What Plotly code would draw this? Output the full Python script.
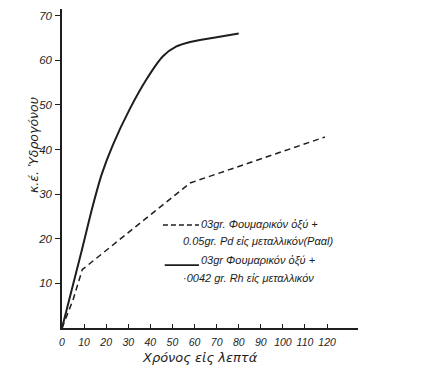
import plotly.graph_objects as go

# Data
rh_time = [0, 9, 14, 18, 23, 30.6, 38.2, 45.7, 51.8, 58, 68, 80]
rh_h2 = [0, 17.5, 27.5, 34.5, 41, 49, 55.7, 60.9, 63.1, 64.1, 65, 66]
pd_time = [0, 5, 9.2, 58, 119]
pd_h2 = [0, 6.3, 13.1, 32.5, 42.8]

x_ticks = list(range(0, 130, 10))
y_ticks = list(range(10, 80, 10))

ink = "#1e1e1e"
FONT = "Liberation Sans"
TFONT = "DejaVu Sans"

fig = go.Figure()
fig.add_trace(go.Scatter(x=rh_time, y=rh_h2, mode="lines",
                         line=dict(color=ink, width=2, shape="spline", smoothing=0.7),
                         showlegend=False, hoverinfo="skip"))
fig.add_trace(go.Scatter(x=pd_time, y=pd_h2, mode="lines",
                         line=dict(color=ink, width=1.5, dash="6px,4px"),
                         showlegend=False, hoverinfo="skip"))

# legend keys
fig.add_shape(type="line", xref="x", yref="y", x0=45.7, x1=62, y0=23.1, y1=23.1,
              line=dict(color=ink, width=1.5, dash="5px,3px"))
fig.add_shape(type="line", xref="x", yref="y", x0=46.5, x1=62, y0=14.1, y1=14.1,
              line=dict(color=ink, width=1.8))

legend_lines = [
    (62.0, 23.1, "03gr. Φουμαρικόν ὀξύ +"),
    (54.0, 19.3, "0.05gr. Pd εἰς μεταλλικόν(Pααl)"),
    (62.0, 15.2, "03gr Φουμαρικόν ὀξύ +"),
    (54.0, 11.2, "·0042 gr. Rh εἰς μεταλλικόν"),
]
for x, y, t in legend_lines:
    fig.add_annotation(x=x, y=y, xref="x", yref="y", text=t, showarrow=False,
                       xanchor="left", yanchor="middle",
                       font=dict(family=FONT, size=11, color=ink, style="italic"))

fig.add_annotation(x=62.4, y=-0.091, xref="paper" if False else "x", yref="paper",
                   text="Χρόνος εἰς λεπτά",
                   showarrow=False, xanchor="center", yanchor="middle",
                   font=dict(family=TFONT, size=13, color=ink, style="italic"))
fig.add_annotation(x=-0.098, y=41, xref="paper", yref="y", text="κ.έ. Ὑδρογόνου",
                   showarrow=False, textangle=-90, xanchor="center", yanchor="middle",
                   font=dict(family=TFONT, size=12.5, color=ink, style="italic"))

fig.update_xaxes(range=[0, 134], tickvals=x_ticks, ticktext=[str(v) for v in x_ticks],
                 tickangle=0, ticklabelstandoff=4,
                 showgrid=False, zeroline=False, showline=True, linecolor=ink, linewidth=1.5,
                 ticks="inside", ticklen=4, tickcolor=ink, tickwidth=1,
                 tickfont=dict(family=FONT, size=10.5, color=ink, style="italic"))
fig.update_yaxes(range=[0, 71.5], tickvals=y_ticks, ticktext=[str(v) for v in y_ticks],
                 ticklabelstandoff=1,
                 showgrid=False, zeroline=False, showline=True, linecolor=ink, linewidth=1.5,
                 ticks="outside", ticklen=5, tickcolor=ink, tickwidth=1,
                 tickfont=dict(family=FONT, size=11.5, color=ink, style="italic"))

# the page body adds an 8px offset, so the figure is sized to the remaining window
fig.update_layout(width=417, height=359, margin=dict(l=54, r=67, t=1, b=39),
                  plot_bgcolor="white", paper_bgcolor="white", showlegend=False)

fig.write_html("out.html")
